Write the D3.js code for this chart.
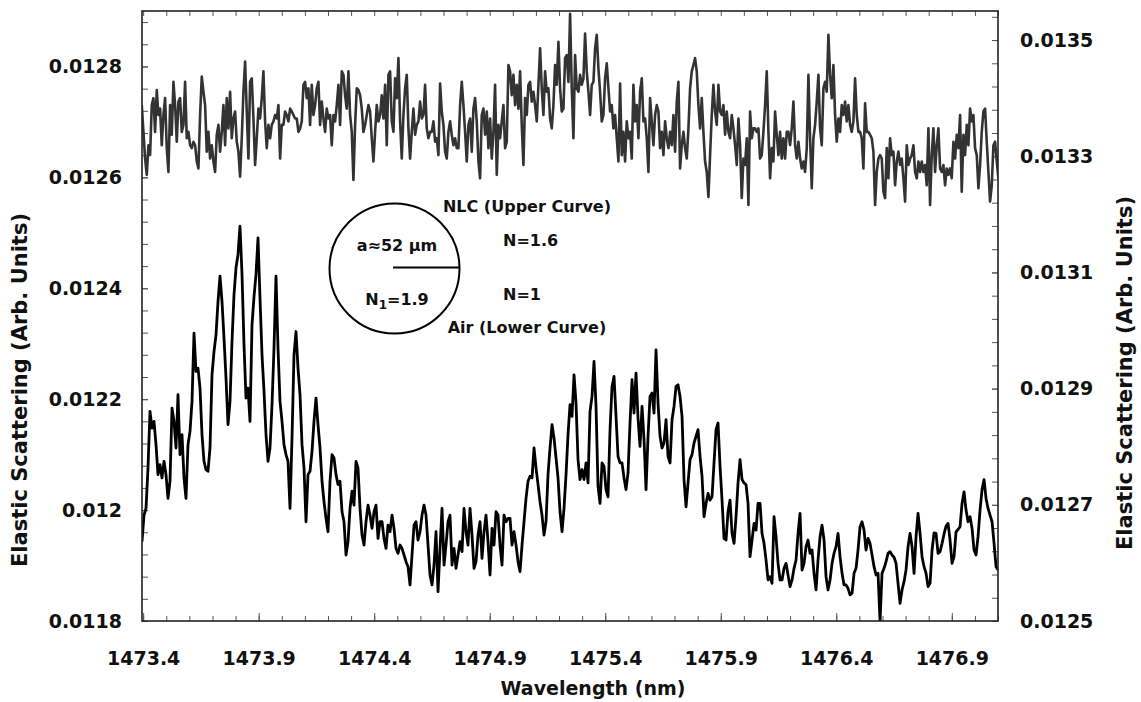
<!DOCTYPE html>
<html>
<head>
<meta charset="utf-8">
<script src="https://cdn.jsdelivr.net/npm/d3@7"></script>
<style>
  body { margin: 0; background: #fff; }
  text { font-family: "DejaVu Sans", Verdana, sans-serif; font-weight: bold; fill: #111; }
</style>
</head>
<body>
<svg id="chart" width="1141" height="702"></svg>
<script>
// Tick labels
const wavelengthTicks = [1473.4, 1473.9, 1474.4, 1474.9, 1475.4, 1475.9, 1476.4, 1476.9];
const airTicks = [0.0118, 0.012, 0.0122, 0.0124, 0.0126, 0.0128];
const nlcTicks = [0.0125, 0.0127, 0.0129, 0.0131, 0.0133, 0.0135];

// Wavelength sampling of each scan (nm)
const airStart = 1473.395, airStep = 0.008657;
const nlcStart = 1473.394, nlcStep = 0.0072136;

// Air-cladded sphere (lower curve, left axis)
const airSignal = [
0.011943,0.011991,0.012003,0.012076,0.012178,0.012148,0.012160,0.012118,0.012064,0.012082,
0.012058,0.012088,0.012064,0.012021,0.012052,0.012184,0.012160,0.012112,0.012208,0.012100,
0.012136,0.012058,0.012021,0.012118,0.012142,0.012196,0.012319,0.012250,0.012256,0.012220,
0.012136,0.012088,0.012073,0.012070,0.012112,0.012244,0.012286,0.012316,0.012376,0.012422,
0.012376,0.012310,0.012238,0.012154,0.012196,0.012304,0.012388,0.012437,0.012461,0.012512,
0.012425,0.012298,0.012202,0.012220,0.012160,0.012334,0.012385,0.012425,0.012491,0.012382,
0.012280,0.012214,0.012136,0.012088,0.012112,0.012190,0.012292,0.012422,0.012292,0.012196,
0.012160,0.012118,0.012100,0.012088,0.012003,0.012130,0.012280,0.012322,0.012256,0.012208,
0.012118,0.012076,0.011979,0.012064,0.012070,0.012106,0.012160,0.012202,0.012154,0.012112,
0.012052,0.012015,0.011985,0.011961,0.012052,0.012100,0.012094,0.012064,0.012046,0.012052,
0.011997,0.011979,0.011919,0.011943,0.012003,0.012034,0.012009,0.012088,0.012076,0.012003,
0.011955,0.011937,0.011979,0.012009,0.011991,0.011967,0.011997,0.012009,0.011949,0.011979,
0.011979,0.011949,0.011931,0.011973,0.011961,0.011991,0.011967,0.011931,0.011922,0.011937,
0.011931,0.011919,0.011907,0.011898,0.011865,0.011919,0.011973,0.011979,0.011946,0.011961,
0.011991,0.012009,0.011991,0.011937,0.011883,0.011865,0.011901,0.011961,0.011853,0.011931,
0.012003,0.011901,0.011937,0.011979,0.011991,0.011901,0.011931,0.011895,0.011919,0.011943,
0.011925,0.012003,0.011961,0.011937,0.012003,0.011955,0.011895,0.011907,0.011955,0.011979,
0.011913,0.011961,0.011991,0.011943,0.011883,0.011967,0.011937,0.011997,0.011991,0.011937,
0.011901,0.011991,0.011979,0.011985,0.011985,0.011937,0.011961,0.011937,0.011907,0.011889,
0.011937,0.011979,0.012021,0.012052,0.012061,0.012058,0.012112,0.012076,0.012046,0.012015,
0.011991,0.011955,0.011979,0.012064,0.012112,0.012154,0.012130,0.012094,0.012058,0.011997,
0.011961,0.012003,0.012064,0.012136,0.012190,
0.012169,0.012244,0.012193,0.012091,0.012055,0.012073,0.012055,0.012085,0.012049,0.012178,
0.012205,0.012268,0.012187,0.012043,0.012012,0.012085,0.012079,0.012037,0.012024,0.012145,
0.012223,0.012241,0.012169,0.012097,0.012085,0.012085,0.012058,0.012037,0.012067,0.012157,
0.012235,0.012175,0.012247,0.012166,0.012115,0.012187,0.012127,0.012037,0.012133,0.012205,
0.012211,0.012175,0.012289,0.012193,0.012133,0.012112,0.012121,0.012163,0.012097,0.012085,
0.012163,0.012187,0.012223,0.012226,0.012205,0.012169,0.012055,0.012006,0.012049,0.012091,
0.012100,0.012121,0.012133,0.012145,0.012097,0.012061,0.011988,0.012012,0.012030,0.012018,
0.012024,0.012085,0.012145,0.012157,0.012079,0.012018,0.011949,0.011946,0.011997,0.012018,
0.011958,0.011940,0.011988,0.012049,0.012091,0.012055,0.012049,0.012046,0.012012,0.011916,
0.011946,0.011976,0.011964,0.012012,0.012012,0.011958,0.011940,0.011910,0.011874,0.011880,
0.011868,0.011988,0.011952,0.011904,0.011874,0.011874,0.011895,0.011904,0.011883,0.011862,
0.011874,0.011895,0.011910,0.011958,0.011994,0.011892,0.011904,0.011934,0.011946,0.011922,
0.011928,0.011886,0.011856,0.011910,0.011952,0.011973,0.011946,0.011880,0.011856,0.011874,
0.011904,0.011922,0.011934,0.011958,0.011916,0.011886,0.011865,0.011865,0.011859,0.011847,
0.011850,0.011886,0.011895,0.011928,0.011970,0.011979,0.011964,0.011928,0.011949,0.011940,
0.011919,0.011898,0.011883,0.011886,0.011799,0.011886,0.011895,0.011907,0.011922,0.011925,
0.011919,0.011915,0.011904,0.011868,0.011832,0.011856,0.011871,0.011892,0.011934,0.011958,
0.011934,0.011886,0.011952,0.011994,0.011958,0.011916,0.011898,0.011886,0.011862,0.011868,
0.011928,0.011959,0.011958,0.011922,0.011925,0.011940,0.011957,0.011971,0.011976,0.011946,
0.011904,0.011916,0.011961,0.011965,0.011970,0.012012,0.012033,0.012000,0.011979,0.011988,
0.011967,0.011928,0.011919,0.011952,0.012000,0.012037,0.012055,0.012021,0.012003,0.011991,
0.011979,0.011940,0.011898,0.011892
];

// Sphere in nematic liquid crystal (upper curve, right axis)
const nlcSignal = [
0.013388,0.013342,0.013296,0.013268,0.013319,0.013302,0.013388,0.013400,0.013342,0.013414,
0.013371,0.013382,0.013319,0.013371,0.013400,0.013314,0.013273,0.013388,0.013337,0.013428,
0.013388,0.013325,0.013394,0.013400,0.013342,0.013354,0.013428,0.013331,0.013342,0.013319,
0.013314,0.013325,0.013319,0.013291,0.013279,0.013371,0.013437,0.013411,0.013388,0.013308,
0.013342,0.013296,0.013319,0.013291,0.013273,0.013337,0.013354,0.013308,0.013342,0.013388,
0.013319,0.013400,0.013348,0.013411,0.013331,0.013365,0.013377,0.013325,0.013308,0.013265,
0.013331,0.013411,0.013463,0.013377,0.013296,0.013428,0.013434,0.013365,0.013285,0.013331,
0.013382,0.013365,0.013400,0.013446,0.013360,0.013314,0.013354,0.013331,0.013354,0.013360,
0.013371,0.013365,0.013388,0.013296,0.013354,0.013354,0.013377,0.013371,0.013360,0.013382,
0.013377,0.013371,0.013365,0.013365,0.013342,0.013348,0.013360,0.013423,0.013428,0.013400,
0.013417,0.013354,0.013423,0.013371,0.013388,0.013417,0.013428,0.013354,0.013394,0.013365,
0.013342,0.013382,0.013365,0.013371,0.013319,0.013371,0.013360,0.013388,0.013423,0.013354,
0.013446,0.013440,0.013405,0.013382,0.013446,0.013371,0.013342,0.013259,0.013354,0.013417,
0.013414,0.013405,0.013382,0.013342,0.013354,0.013371,0.013388,0.013377,0.013331,0.013291,
0.013342,0.013388,0.013360,0.013371,0.013405,0.013365,0.013423,0.013319,0.013440,0.013446,
0.013360,0.013342,0.013434,0.013400,0.013469,0.013360,0.013296,0.013371,0.013417,0.013440,
0.013348,0.013296,0.013342,0.013382,0.013337,0.013354,0.013360,0.013394,0.013365,0.013371,
0.013423,0.013348,0.013331,0.013342,0.013342,0.013360,0.013325,0.013331,0.013302,0.013425,
0.013377,0.013354,0.013308,0.013296,0.013342,0.013360,0.013337,0.013319,0.013331,0.013314,
0.013314,0.013388,0.013428,0.013388,0.013342,0.013291,0.013354,0.013365,0.013308,0.013382,
0.013400,0.013360,0.013291,0.013262,0.013371,0.013382,0.013337,0.013377,0.013314,0.013365,
0.013296,0.013342,0.013423,0.013268,0.013354,0.013331,0.013360,0.013388,0.013314,0.013325,
0.013457,0.013446,0.013405,0.013440,0.013388,0.013423,0.013382,0.013446,0.013354,0.013285,
0.013400,0.013371,0.013423,0.013428,0.013394,0.013411,0.013388,0.013360,0.013423,0.013486,
0.013417,0.013371,0.013446,0.013411,0.013417,0.013365,0.013348,0.013388,0.013457,0.013423,
0.013497,0.013417,0.013377,0.013382,0.013469,0.013474,0.013428,0.013545,
0.013417,0.013331,0.013474,0.013417,0.013411,0.013440,0.013423,0.013434,0.013511,0.013446,
0.013411,0.013371,0.013423,0.013428,0.013486,0.013509,0.013451,0.013411,0.013360,0.013371,
0.013434,0.013460,0.013417,0.013377,0.013388,0.013348,0.013371,0.013331,0.013291,0.013425,
0.013302,0.013342,0.013291,0.013360,0.013331,0.013342,0.013296,0.013423,0.013360,0.013388,
0.013331,0.013411,0.013434,0.013360,0.013365,0.013331,0.013273,0.013400,0.013360,0.013319,
0.013371,0.013388,0.013377,0.013314,0.013342,0.013302,0.013360,0.013331,0.013314,0.013342,
0.013319,0.013371,0.013308,0.013394,0.013428,0.013279,0.013319,0.013342,0.013314,0.013296,
0.013348,0.013417,0.013446,0.013457,0.013469,0.013446,0.013388,0.013348,0.013400,0.013342,
0.013291,0.013273,0.013230,0.013302,0.013371,0.013423,0.013377,0.013354,0.013423,0.013377,
0.013371,0.013388,0.013337,0.013377,0.013342,0.013331,0.013371,0.013348,0.013319,0.013285,
0.013365,0.013319,0.013228,0.013296,0.013285,0.013331,0.013216,0.013377,0.013331,0.013348,
0.013348,0.013342,0.013348,0.013296,0.013302,0.013342,0.013388,0.013446,0.013342,0.013262,
0.013314,0.013291,0.013377,0.013337,0.013302,0.013342,0.013296,0.013331,0.013296,0.013342,
0.013342,0.013319,0.013348,0.013394,0.013319,0.013296,0.013325,0.013296,0.013279,0.013291,
0.013273,0.013314,0.013440,0.013331,0.013245,0.013331,0.013354,0.013394,0.013440,0.013348,
0.013319,0.013417,0.013428,0.013411,0.013509,0.013440,0.013400,0.013457,0.013371,0.013325,
0.013365,0.013342,0.013388,0.013371,0.013394,0.013360,0.013388,0.013354,0.013342,0.013360,
0.013434,0.013371,0.013342,0.013342,0.013331,0.013279,0.013391,0.013342,0.013342,0.013337,
0.013331,0.013308,0.013216,0.013273,0.013296,0.013302,0.013296,0.013239,0.013228,0.013314,
0.013262,0.013331,0.013302,0.013308,0.013250,0.013291,0.013308,0.013285,0.013296,0.013262,
0.013222,0.013319,0.013285,0.013296,0.013302,0.013319,0.013273,0.013262,0.013291,0.013273,
0.013291,0.013273,0.013285,0.013250,0.013348,0.013216,0.013302,0.013348,0.013273,0.013319,
0.013348,0.013279,0.013273,0.013285,0.013250,0.013279,0.013268,0.013279,0.013262,0.013325,
0.013296,0.013337,0.013314,0.013371,0.013239,0.013337,0.013302,0.013354,0.013319,0.013382,
0.013360,0.013371,0.013314,0.013302,0.013245,0.013285,0.013342,0.013377,0.013382,0.013325,
0.013273,0.013222,0.013250,0.013319,0.013325,0.013291,0.013262
];

const svg = d3.select("#chart");
const plot = { left: 142, right: 998, top: 11, bottom: 621 };

const x = d3.scaleLinear().domain([1473.395, 1477.1]).range([plot.left, plot.right]);
const yAir = d3.scaleLinear().domain([0.0118, 0.0129]).range([plot.bottom, plot.top]);
const yNlc = d3.scaleLinear().domain([0.0125, 0.01355]).range([plot.bottom, plot.top]);

const minorWl = d3.range(0, 38).map(i => +(1473.4 + i * 0.1).toFixed(1)).filter(v => v <= 1477.1);
const minorAir = d3.range(0, 28).map(i => +(0.0118 + i * 0.00004).toFixed(5)).filter(v => v <= 0.0129);
const minorNlc = d3.range(0, 27).map(i => +(0.0125 + i * 0.00004).toFixed(5)).filter(v => v <= 0.01355);

function styleAxis(g) {
  g.select(".domain").remove();
  g.selectAll(".tick line").attr("stroke", "#555").attr("stroke-width", 1);
  g.selectAll(".tick text").attr("font-size", 19).attr("fill", "#111")
    .attr("font-family", "'DejaVu Sans', Verdana, sans-serif").attr("font-weight", "bold");
}

// minor ticks (inside the frame)
svg.append("g").attr("transform", `translate(0,${plot.bottom})`)
  .call(d3.axisBottom(x).tickValues(minorWl).tickSize(-5).tickFormat("")).call(styleAxis);
svg.append("g").attr("transform", `translate(0,${plot.top})`)
  .call(d3.axisTop(x).tickValues(minorWl).tickSize(-5).tickFormat("")).call(styleAxis);
svg.append("g").attr("transform", `translate(${plot.left},0)`)
  .call(d3.axisLeft(yAir).tickValues(minorAir).tickSize(-6).tickFormat("")).call(styleAxis);
svg.append("g").attr("transform", `translate(${plot.right},0)`)
  .call(d3.axisRight(yNlc).tickValues(minorNlc).tickSize(-6).tickFormat("")).call(styleAxis);

// major ticks with labels
svg.append("g").attr("transform", `translate(0,${plot.bottom})`)
  .call(d3.axisBottom(x).tickValues(wavelengthTicks).tickSize(-8).tickPadding(31).tickFormat(d3.format(".1f")))
  .call(styleAxis);
svg.append("g").attr("transform", `translate(${plot.left},0)`)
  .call(d3.axisLeft(yAir).tickValues(airTicks).tickSize(-6).tickPadding(20).tickFormat(d => String(+d.toFixed(4))))
  .call(styleAxis);
svg.append("g").attr("transform", `translate(${plot.right},0)`)
  .call(d3.axisRight(yNlc).tickValues(nlcTicks).tickSize(-6).tickPadding(22).tickFormat(d => String(+d.toFixed(4))))
  .call(styleAxis);

// curves
svg.append("defs").append("clipPath").attr("id", "plotClip")
  .append("rect").attr("x", plot.left).attr("y", plot.top)
  .attr("width", plot.right - plot.left).attr("height", plot.bottom - plot.top);

const airLine = d3.line().x((d, i) => x(airStart + i * airStep)).y(d => yAir(d));
const nlcLine = d3.line().x((d, i) => x(nlcStart + i * nlcStep)).y(d => yNlc(d));

const curves = svg.append("g").attr("clip-path", "url(#plotClip)");
curves.append("path").datum(nlcSignal).attr("d", nlcLine)
  .attr("fill", "none").attr("stroke", "#333").attr("stroke-width", 2.6).attr("stroke-linejoin", "round");
curves.append("path").datum(airSignal).attr("d", airLine)
  .attr("fill", "none").attr("stroke", "#000").attr("stroke-width", 2.8).attr("stroke-linejoin", "round");

// frame
svg.append("rect").attr("x", plot.left).attr("y", plot.top)
  .attr("width", plot.right - plot.left).attr("height", plot.bottom - plot.top)
  .attr("fill", "none").attr("stroke", "#222").attr("stroke-width", 1.6);

// axis titles
svg.append("text").attr("x", 593).attr("y", 695).attr("text-anchor", "middle")
  .attr("font-size", 19).text("Wavelength (nm)");
svg.append("text").attr("transform", "translate(27,390) rotate(-90)").attr("text-anchor", "middle")
  .attr("font-size", 21).text("Elastic Scattering (Arb. Units)");
svg.append("text").attr("transform", "translate(1132,373) rotate(-90)").attr("text-anchor", "middle")
  .attr("font-size", 21).text("Elastic Scattering (Arb. Units)");

// sphere sketch
const sketch = svg.append("g");
sketch.append("circle").attr("cx", 394.5).attr("cy", 268.5).attr("r", 65)
  .attr("fill", "none").attr("stroke", "#000").attr("stroke-width", 2);
sketch.append("line").attr("x1", 393).attr("x2", 459.5).attr("y1", 267.5).attr("y2", 267.5)
  .attr("stroke", "#000").attr("stroke-width", 2);
sketch.append("text").attr("x", 397).attr("y", 251).attr("text-anchor", "middle")
  .attr("font-size", 16).text("a≈52 µm");
const n1 = sketch.append("text").attr("x", 397).attr("y", 305).attr("text-anchor", "middle").attr("font-size", 16);
n1.append("tspan").text("N");
n1.append("tspan").attr("font-size", 12).attr("dy", 4).text("1");
n1.append("tspan").attr("dy", -4).text("=1.9");

sketch.append("text").attr("x", 527).attr("y", 212).attr("text-anchor", "middle")
  .attr("font-size", 16).text("NLC (Upper Curve)");
sketch.append("text").attr("x", 503).attr("y", 246).attr("font-size", 16).text("N=1.6");
sketch.append("text").attr("x", 503).attr("y", 300).attr("font-size", 16).text("N=1");
sketch.append("text").attr("x", 527).attr("y", 333).attr("text-anchor", "middle")
  .attr("font-size", 16).text("Air (Lower Curve)");
</script>
</body>
</html>
